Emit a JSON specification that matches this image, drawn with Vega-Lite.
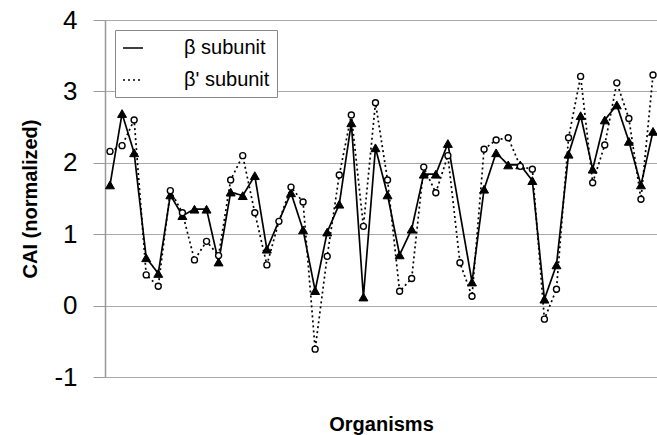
{
  "$schema": "https://vega.github.io/schema/vega-lite/v6.json",
  "width": 552,
  "height": 357,
  "autosize": {"type": "none"},
  "padding": {"left": 105, "top": 20, "right": 0, "bottom": 58},
  "background": "white",
  "config": {"view": {"stroke": null}, "font": "Liberation Sans",
    "legend": {
      "title": null, "orient": "top-left", "offset": 10, "padding": 7,
      "strokeColor": "#888888", "fillColor": "white",
      "labelFontSize": 20, "labelFont": "Liberation Sans", "labelColor": "black",
      "symbolSize": 400, "labelOffset": 40, "rowPadding": 11
    }
  },
  "data": {"values": [
    {"organism": 1, "series": "β subunit", "cai": 1.69},
    {"organism": 2, "series": "β subunit", "cai": 2.69},
    {"organism": 3, "series": "β subunit", "cai": 2.14},
    {"organism": 4, "series": "β subunit", "cai": 0.67},
    {"organism": 5, "series": "β subunit", "cai": 0.45},
    {"organism": 6, "series": "β subunit", "cai": 1.55},
    {"organism": 7, "series": "β subunit", "cai": 1.26},
    {"organism": 8, "series": "β subunit", "cai": 1.35},
    {"organism": 9, "series": "β subunit", "cai": 1.35},
    {"organism": 10, "series": "β subunit", "cai": 0.61},
    {"organism": 11, "series": "β subunit", "cai": 1.59},
    {"organism": 12, "series": "β subunit", "cai": 1.54},
    {"organism": 13, "series": "β subunit", "cai": 1.82},
    {"organism": 14, "series": "β subunit", "cai": 0.79},
    {"organism": 15, "series": "β subunit", "cai": null},
    {"organism": 16, "series": "β subunit", "cai": 1.58},
    {"organism": 17, "series": "β subunit", "cai": 1.06},
    {"organism": 18, "series": "β subunit", "cai": 0.21},
    {"organism": 19, "series": "β subunit", "cai": 1.03},
    {"organism": 20, "series": "β subunit", "cai": 1.42},
    {"organism": 21, "series": "β subunit", "cai": 2.56},
    {"organism": 22, "series": "β subunit", "cai": 0.12},
    {"organism": 23, "series": "β subunit", "cai": 2.21},
    {"organism": 24, "series": "β subunit", "cai": 1.55},
    {"organism": 25, "series": "β subunit", "cai": 0.71},
    {"organism": 26, "series": "β subunit", "cai": 1.07},
    {"organism": 27, "series": "β subunit", "cai": 1.84},
    {"organism": 28, "series": "β subunit", "cai": 1.84},
    {"organism": 29, "series": "β subunit", "cai": 2.27},
    {"organism": 30, "series": "β subunit", "cai": null},
    {"organism": 31, "series": "β subunit", "cai": 0.33},
    {"organism": 32, "series": "β subunit", "cai": 1.63},
    {"organism": 33, "series": "β subunit", "cai": 2.14},
    {"organism": 34, "series": "β subunit", "cai": 1.97},
    {"organism": 35, "series": "β subunit", "cai": 1.97},
    {"organism": 36, "series": "β subunit", "cai": 1.75},
    {"organism": 37, "series": "β subunit", "cai": 0.09},
    {"organism": 38, "series": "β subunit", "cai": 0.57},
    {"organism": 39, "series": "β subunit", "cai": 2.12},
    {"organism": 40, "series": "β subunit", "cai": 2.66},
    {"organism": 41, "series": "β subunit", "cai": 1.91},
    {"organism": 42, "series": "β subunit", "cai": 2.6},
    {"organism": 43, "series": "β subunit", "cai": 2.81},
    {"organism": 44, "series": "β subunit", "cai": 2.3},
    {"organism": 45, "series": "β subunit", "cai": 1.69},
    {"organism": 46, "series": "β subunit", "cai": 2.44},
    {"organism": 1, "series": "β' subunit", "cai": 2.16},
    {"organism": 2, "series": "β' subunit", "cai": 2.24},
    {"organism": 3, "series": "β' subunit", "cai": 2.6},
    {"organism": 4, "series": "β' subunit", "cai": 0.43},
    {"organism": 5, "series": "β' subunit", "cai": 0.27},
    {"organism": 6, "series": "β' subunit", "cai": 1.61},
    {"organism": 7, "series": "β' subunit", "cai": 1.3},
    {"organism": 8, "series": "β' subunit", "cai": 0.64},
    {"organism": 9, "series": "β' subunit", "cai": 0.9},
    {"organism": 10, "series": "β' subunit", "cai": 0.7},
    {"organism": 11, "series": "β' subunit", "cai": 1.76},
    {"organism": 12, "series": "β' subunit", "cai": 2.1},
    {"organism": 13, "series": "β' subunit", "cai": 1.3},
    {"organism": 14, "series": "β' subunit", "cai": 0.57},
    {"organism": 15, "series": "β' subunit", "cai": 1.18},
    {"organism": 16, "series": "β' subunit", "cai": 1.66},
    {"organism": 17, "series": "β' subunit", "cai": 1.45},
    {"organism": 18, "series": "β' subunit", "cai": -0.61},
    {"organism": 19, "series": "β' subunit", "cai": 0.69},
    {"organism": 20, "series": "β' subunit", "cai": 1.83},
    {"organism": 21, "series": "β' subunit", "cai": 2.67},
    {"organism": 22, "series": "β' subunit", "cai": 1.11},
    {"organism": 23, "series": "β' subunit", "cai": 2.84},
    {"organism": 24, "series": "β' subunit", "cai": 1.76},
    {"organism": 25, "series": "β' subunit", "cai": 0.2},
    {"organism": 26, "series": "β' subunit", "cai": 0.38},
    {"organism": 27, "series": "β' subunit", "cai": 1.94},
    {"organism": 28, "series": "β' subunit", "cai": 1.58},
    {"organism": 29, "series": "β' subunit", "cai": 2.1},
    {"organism": 30, "series": "β' subunit", "cai": 0.6},
    {"organism": 31, "series": "β' subunit", "cai": 0.13},
    {"organism": 32, "series": "β' subunit", "cai": 2.19},
    {"organism": 33, "series": "β' subunit", "cai": 2.32},
    {"organism": 34, "series": "β' subunit", "cai": 2.35},
    {"organism": 35, "series": "β' subunit", "cai": 1.95},
    {"organism": 36, "series": "β' subunit", "cai": 1.91},
    {"organism": 37, "series": "β' subunit", "cai": -0.19},
    {"organism": 38, "series": "β' subunit", "cai": 0.23},
    {"organism": 39, "series": "β' subunit", "cai": 2.35},
    {"organism": 40, "series": "β' subunit", "cai": 3.21},
    {"organism": 41, "series": "β' subunit", "cai": 1.72},
    {"organism": 42, "series": "β' subunit", "cai": 2.25},
    {"organism": 43, "series": "β' subunit", "cai": 3.12},
    {"organism": 44, "series": "β' subunit", "cai": 2.62},
    {"organism": 45, "series": "β' subunit", "cai": 1.49},
    {"organism": 46, "series": "β' subunit", "cai": 3.23}
  ]},
  "transform": [{"filter": "isValid(datum.cai)"}],
  "encoding": {
    "x": {
      "field": "organism", "type": "quantitative",
      "scale": {"domain": [0.586, 46.33], "nice": false, "zero": false},
      "axis": {"title": "Organisms", "labels": false, "ticks": false, "grid": false, "domain": false,
        "titleFontSize": 20, "titleFontWeight": "bold", "titleColor": "black", "titleFont": "Liberation Sans", "titlePadding": 37}
    },
    "y": {
      "field": "cai", "type": "quantitative",
      "scale": {"domain": [-1, 4], "nice": false, "zero": false},
      "axis": {"title": "CAI (normalized)", "values": [-1, 0, 1, 2, 3, 4], "tickSize": 12, "labelPadding": 16,
        "labelExpr": "toString(datum.value)",
        "labelFontSize": 26, "labelColor": "black", "labelFont": "Liberation Sans",
        "domainColor": "#999999", "tickColor": "#999999", "gridColor": "#aaaaaa", "gridWidth": 1.2, "domainWidth": 1.5,
        "titleFontSize": 20, "titleFontWeight": "bold", "titleColor": "black", "titleFont": "Liberation Sans", "titlePadding": 13}
    }
  },
  "layer": [
    {
      "mark": {"type": "line", "color": "black", "strokeWidth": 1.7},
      "encoding": {
        "strokeDash": {"field": "series", "type": "nominal",
          "scale": {"domain": ["β subunit", "β' subunit"], "range": [[1, 0], [2, 3]]},
          "legend": {"encode": {"symbols": {
              "shape": {"value": {"expr": "datum.value === 'β subunit' ? 'M-1.05,0H4.35M1.85,-0.42L2.3,0.32L1.4,0.32Z' : 'M-1.05,0H1.35M1.35,0A0.3,0.3 0 1,0 1.95,0A0.3,0.3 0 1,0 1.35,0ZM1.95,0H4.35'"}},
              "fill": {"value": {"expr": "datum.value === 'β subunit' ? 'black' : 'white'"}},
              "stroke": {"value": "black"},
              "strokeWidth": {"value": 1.5},
              "size": {"value": 400},
              "opacity": {"value": 1}
          }}}
        }
      }
    },
    {
      "transform": [{"filter": "datum.series === 'β subunit'"}],
      "mark": {"type": "point", "shape": "triangle-up", "filled": true, "color": "black", "stroke": "black", "strokeWidth": 1, "size": 80, "opacity": 1},
      "encoding": {"x": {"field": "organism", "type": "quantitative"}, "y": {"field": "cai", "type": "quantitative"}}
    },
    {
      "transform": [{"filter": "datum.series !== 'β subunit'"}],
      "mark": {"type": "point", "shape": "circle", "filled": true, "fill": "white", "stroke": "black", "strokeWidth": 1.4, "size": 36, "opacity": 1},
      "encoding": {"x": {"field": "organism", "type": "quantitative"}, "y": {"field": "cai", "type": "quantitative"}}
    }
  ]
}
